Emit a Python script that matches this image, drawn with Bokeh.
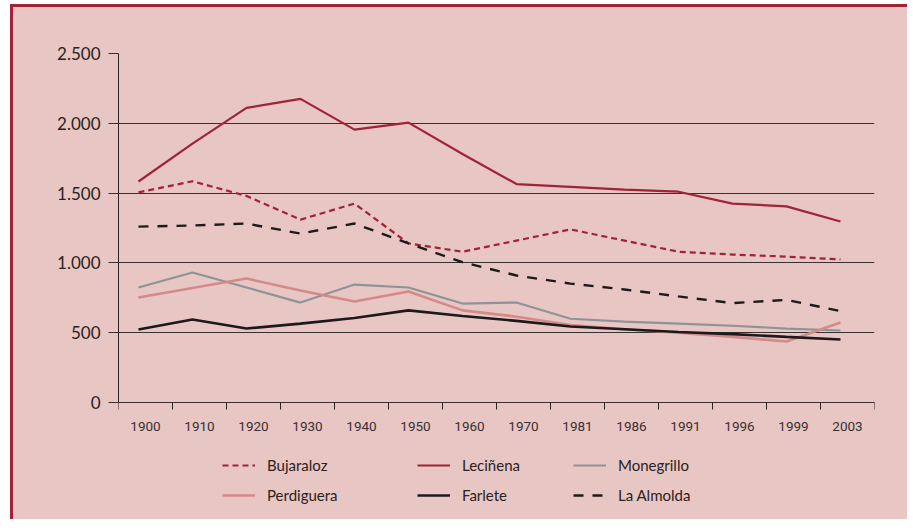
from bokeh.plotting import figure
from bokeh.models import (ColumnDataSource, Range1d, FixedTicker, Legend, LegendItem)
from bokeh.transform import dodge
from bokeh.embed import file_html
from bokeh.resources import INLINE

years = ["1900", "1910", "1920", "1930", "1940", "1950", "1960",
         "1970", "1981", "1986", "1991", "1996", "1999", "2003"]
bujaraloz = [1505, 1585, 1480, 1310, 1425, 1140, 1080, 1160, 1240, 1160, 1080, 1060, 1045, 1025]
lecinena = [1583, 1855, 2110, 2175, 1955, 2005, 1780, 1565, 1545, 1525, 1510, 1425, 1405, 1297]
monegrillo = [824, 931, 824, 716, 845, 824, 709, 716, 600, 580, 565, 550, 530, 516]
perdiguera = [752, 820, 888, 802, 723, 795, 660, 615, 555, 525, 500, 470, 437, 573]
farlete = [523, 595, 530, 565, 605, 660, 620, 585, 545, 525, 505, 490, 470, 451]
la_almolda = [1260, 1268, 1282, 1210, 1282, 1140, 1005, 910, 852, 810, 760, 712, 735, 655]
y_ticks = [0, 500, 1000, 1500, 2000, 2500]
y_tick_labels = ["0", "500", "1.000", "1.500", "2.000", "2.500"]

n = len(years)
centers = [i + 0.5 for i in range(n)]
bounds = list(range(n + 1))

src = ColumnDataSource(dict(x=centers, bujaraloz=bujaraloz, lecinena=lecinena,
                            monegrillo=monegrillo, perdiguera=perdiguera,
                            farlete=farlete, la_almolda=la_almolda))

BG = "#e8c6c3"
RED = "#a02337"
INK = "#2a2222"

# frame extends below the x axis to hold the legend; y=0 sits where the axis is drawn
p = figure(width=897, height=515, output_backend="svg", toolbar_location=None,
           x_range=Range1d(0, n), y_range=Range1d(-845, 2500),
           min_border_left=105, min_border_top=46, min_border_right=36,
           min_border_bottom=2)
p.styles = {"border-left": f"3px solid {RED}", "border-top": f"3px solid {RED}",
            "margin-left": "10px", "margin-top": "4px",
            "background-color": BG}
p.background_fill_color = None
p.border_fill_color = None
p.outline_line_color = None
p.xgrid.visible = False
p.ygrid.grid_line_color = "#3a3030"
p.ygrid.grid_line_width = 1

yax = p.yaxis[0]
yax.ticker = FixedTicker(ticks=y_ticks)
yax.bounds = (0, 2500)
yax.major_label_overrides = {t: l for t, l in zip(y_ticks, y_tick_labels)}
yax.axis_line_color = INK
yax.major_tick_out = 10
yax.major_tick_in = 0
yax.major_tick_line_color = "#3a3030"
yax.minor_tick_line_color = None
yax.major_label_standoff = 8
yax.major_label_text_font = "Lato"
yax.major_label_text_font_size = "17px"
yax.major_label_text_color = INK

# x axis, drawn at y = 0
xax = p.xaxis[0]
xax.fixed_location = 0
xax.ticker = FixedTicker(ticks=centers, minor_ticks=bounds)
xax.major_label_overrides = {c: y for c, y in zip(centers, years)}
xax.axis_line_color = "#3a3030"
xax.major_tick_out = 0
xax.major_tick_in = 0
xax.major_tick_line_color = None
xax.minor_tick_out = 7
xax.minor_tick_in = 0
xax.minor_tick_line_color = INK
xax.major_label_standoff = 12
xax.major_label_text_font = "Roboto"
xax.major_label_text_font_size = "13.5px"
xax.major_label_text_color = "#3a3030"

xd = dodge("x", -0.13, range=p.x_range)

r_buj = p.line(x=xd, y="bujaraloz", source=src, line_color=RED, line_width=2.2, line_dash="6 4")
r_lec = p.line(x=xd, y="lecinena", source=src, line_color=RED, line_width=2.2)
r_mon = p.line(x=xd, y="monegrillo", source=src, line_color="#8e9396", line_width=2.2)
r_per = p.line(x=xd, y="perdiguera", source=src, line_color="#d4898a", line_width=2.6)
r_far = p.line(x=xd, y="farlete", source=src, line_color="#1c1a1a", line_width=2.6)
r_alm = p.line(x=xd, y="la_almolda", source=src, line_color="#1c1a1a", line_width=2.4, line_dash="10 9")

cols = [[("Bujaraloz", r_buj), ("Perdiguera", r_per)],
        [("Leciñena", r_lec), ("Farlete", r_far)],
        [("Monegrillo", r_mon), ("La Almolda", r_alm)]]
xs_leg = [104, 299, 455]
for items, lx in zip(cols, xs_leg):
    leg = Legend(items=[LegendItem(label=l, renderers=[r]) for l, r in items],
                 location=(lx, 15), orientation="vertical",
                 glyph_width=33, glyph_height=20, label_height=20, spacing=10,
                 padding=0, margin=0, label_standoff=12,
                 background_fill_alpha=0, border_line_alpha=0,
                 label_text_font="Lato", label_text_font_size="15px",
                 label_text_color=INK)
    p.add_layout(leg, "center")

open("out.html", "w").write(file_html(p, INLINE))
